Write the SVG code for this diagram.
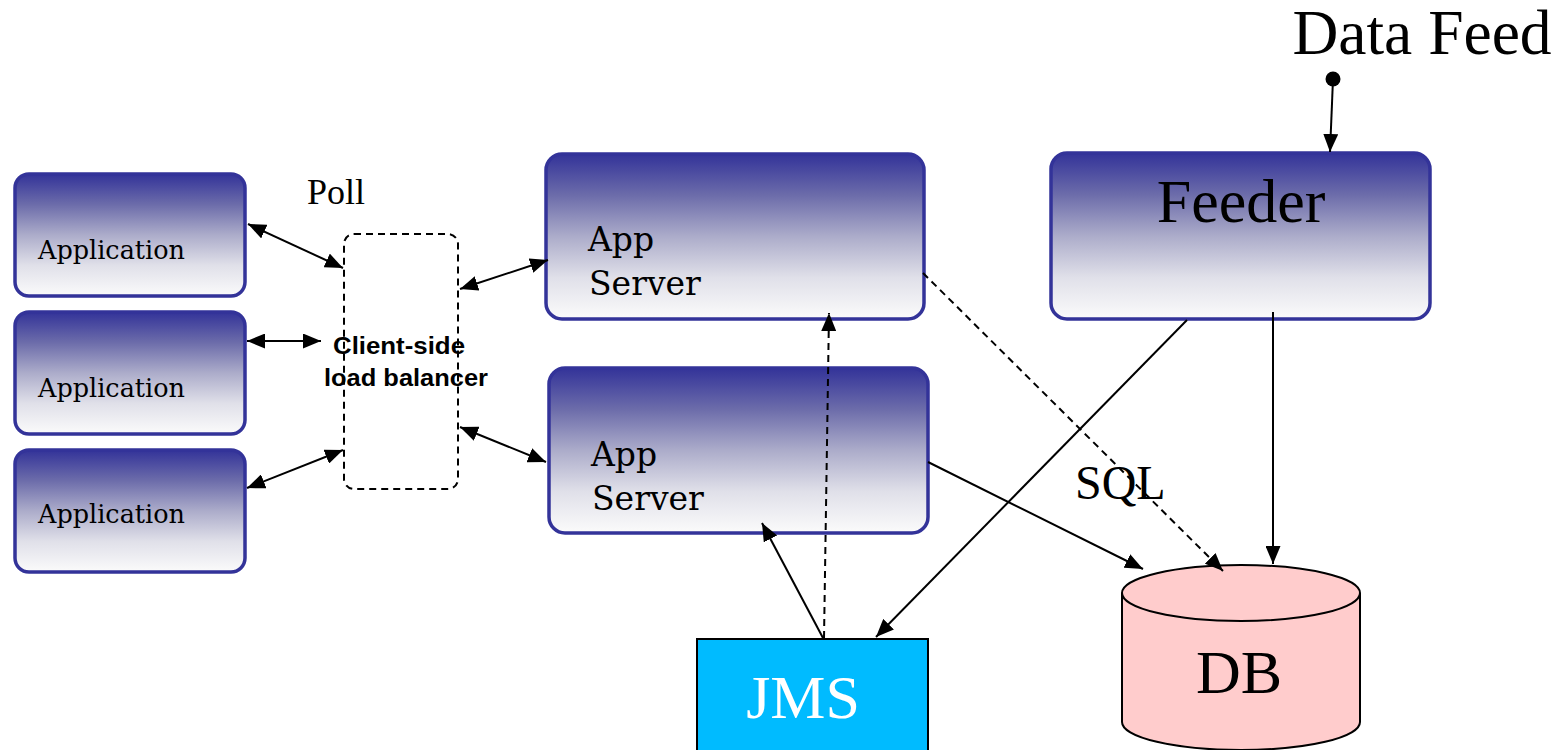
<svg xmlns="http://www.w3.org/2000/svg" width="1562" height="750" viewBox="0 0 1562 750">
  <style>
    .box { stroke: #333399; stroke-width: 3.5; fill: url(#blueFade); }
    .lbl { font-family: "DejaVu Serif", "Liberation Serif", serif; fill: #000; }
    .big { font-family: "Liberation Serif", "Times New Roman", serif; fill: #000; }
    .lb { font-family: "Liberation Sans", Arial, sans-serif; font-weight: bold; font-size: 23.5px; fill: #000; text-anchor: middle; }
    .edge { stroke: #000; stroke-width: 2; fill: none; }
    .dash { stroke-dasharray: 7 5; }
  </style>
  <defs>
    <linearGradient id="blueFade" x1="0" y1="0" x2="0" y2="1">
      <stop offset="0" stop-color="#333399"/>
      <stop offset="0.25" stop-color="#6c6caa"/>
      <stop offset="0.5" stop-color="#acacca"/>
      <stop offset="0.75" stop-color="#e0e0e9"/>
      <stop offset="1" stop-color="#fbfbfb"/>
    </linearGradient>
    <marker id="arrow" viewBox="0 0 18 15" refX="18" refY="7.5" markerWidth="18" markerHeight="15" markerUnits="userSpaceOnUse" orient="auto-start-reverse">
      <path d="M0,0 L18,7.5 L0,15 Z" fill="#000"/>
    </marker>
  </defs>

  <!-- Client applications -->
  <g id="app1">
    <rect class="box" x="15" y="174" width="230" height="122" rx="14"/>
    <text class="lbl" x="38" y="259" font-size="25.5">Application</text>
  </g>
  <g id="app2">
    <rect class="box" x="15" y="312" width="230" height="122" rx="14"/>
    <text class="lbl" x="38" y="397" font-size="25.5">Application</text>
  </g>
  <g id="app3">
    <rect class="box" x="15" y="450" width="230" height="122" rx="14"/>
    <text class="lbl" x="38" y="523" font-size="25.5">Application</text>
  </g>

  <!-- Load balancer -->
  <g id="balancer">
    <rect x="344" y="234" width="114" height="255" rx="10" fill="none" stroke="#000" stroke-width="2" stroke-dasharray="7 5"/>
    <text class="lb" x="399" y="354" textLength="132" lengthAdjust="spacingAndGlyphs">Client-side</text>
    <text class="lb" x="406" y="386" textLength="164" lengthAdjust="spacingAndGlyphs">load balancer</text>
  </g>

  <!-- App servers -->
  <g id="server1">
    <rect class="box" x="546" y="154" width="378" height="165" rx="16"/>
    <text class="lbl" x="588" y="251" font-size="33">App</text>
    <text class="lbl" x="589" y="295" font-size="33">Server</text>
  </g>
  <g id="server2">
    <rect class="box" x="549" y="368" width="379" height="165" rx="16"/>
    <text class="lbl" x="591" y="466" font-size="33">App</text>
    <text class="lbl" x="592" y="510" font-size="33">Server</text>
  </g>

  <!-- Feeder -->
  <g id="feeder">
    <rect class="box" x="1051" y="153" width="379" height="166" rx="16"/>
    <text class="big" x="1241" y="222" font-size="62" text-anchor="middle">Feeder</text>
  </g>

  <!-- Data feed source -->
  <g id="datafeed">
    <text class="big" x="1422" y="54" font-size="63.5" text-anchor="middle">Data Feed</text>
    <circle cx="1333" cy="79" r="7.5" fill="#000"/>
  </g>

  <!-- JMS -->
  <g id="jms">
    <rect x="697" y="639" width="231" height="130" fill="#00bbff" stroke="#000" stroke-width="2"/>
    <text x="803" y="718" font-size="62" text-anchor="middle" font-family="Liberation Serif, serif" fill="#fff">JMS</text>
  </g>

  <!-- Database -->
  <g id="db">
    <path d="M1122,593 L1122,722 A119,28 0 0 0 1360,722 L1360,593 A119,28 0 0 0 1122,593 Z" fill="#ffcccc" stroke="#000" stroke-width="2"/>
    <path d="M1122,593 A119,28 0 0 0 1360,593" fill="none" stroke="#000" stroke-width="2"/>
    <text class="big" x="1239" y="693" font-size="62" text-anchor="middle">DB</text>
  </g>

  <!-- Free labels -->
  <g id="labels">
    <text class="big" x="307" y="204" font-size="36">Poll</text>
    <text class="big" x="1075" y="499" font-size="48">SQL</text>
  </g>

  <!-- Connectors -->
  <g id="connectors">
    <line class="edge" x1="248" y1="224" x2="343" y2="268" marker-start="url(#arrow)" marker-end="url(#arrow)"/>
    <line class="edge" x1="247" y1="341" x2="321" y2="341" marker-start="url(#arrow)" marker-end="url(#arrow)"/>
    <line class="edge" x1="247" y1="488" x2="343" y2="450" marker-start="url(#arrow)" marker-end="url(#arrow)"/>
    <line class="edge" x1="460" y1="289" x2="548" y2="260" marker-start="url(#arrow)" marker-end="url(#arrow)"/>
    <line class="edge" x1="460" y1="427" x2="546" y2="462" marker-start="url(#arrow)" marker-end="url(#arrow)"/>
    <line class="edge" x1="823" y1="638" x2="762" y2="523" marker-end="url(#arrow)"/>
    <line class="edge dash" x1="824" y1="638" x2="829" y2="313" marker-end="url(#arrow)"/>
    <line class="edge" x1="1187" y1="320" x2="876" y2="637" marker-end="url(#arrow)"/>
    <line class="edge" x1="1273" y1="312" x2="1273" y2="564" marker-end="url(#arrow)"/>
    <line class="edge" x1="928" y1="462" x2="1143" y2="569" marker-end="url(#arrow)"/>
    <line class="edge dash" x1="923" y1="273" x2="1223" y2="571" marker-end="url(#arrow)"/>
    <line class="edge" x1="1333" y1="79" x2="1330" y2="152" marker-end="url(#arrow)"/>
  </g>
</svg>
